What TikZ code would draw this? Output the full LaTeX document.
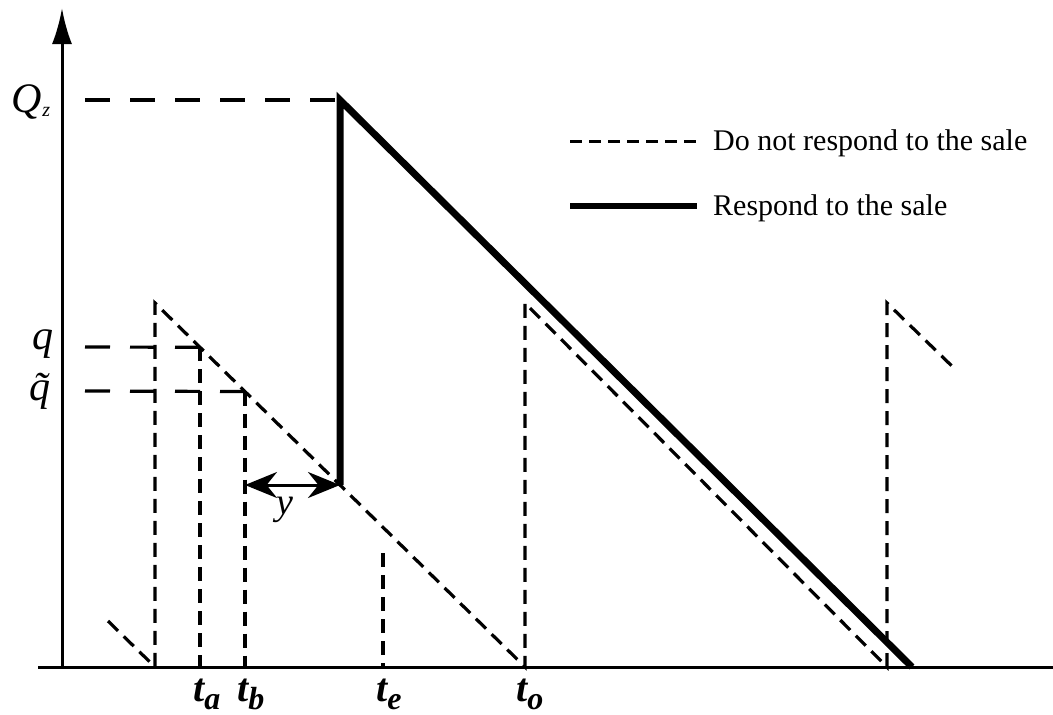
\documentclass[tikz,border=0pt]{standalone}
\usepackage{fontspec}
\setmainfont{Liberation Serif}
\usetikzlibrary{arrows.meta,calc}
\newcommand\tsub[1]{t\raisebox{-8pt}{\fontsize{32}{32}\selectfont #1}}
\begin{document}
\begin{tikzpicture}[x=1pt,y=-1pt,
  axis/.style={line width=3pt},
  saw/.style={line width=3.2pt, dash pattern=on 14pt off 8pt},
  guide/.style={line width=3.2pt, dash pattern=on 25pt off 20pt},
  resp/.style={line width=7pt, line join=miter},
  tlab/.style={font=\fontsize{40}{40}\selectfont\bfseries\itshape, inner sep=0pt, anchor=base west},
  vlab/.style={font=\fontsize{42}{42}\selectfont\itshape, inner sep=0pt},
  legtext/.style={font=\fontsize{30}{30}\selectfont, anchor=west, inner sep=0pt}
]
\useasboundingbox (0,0) rectangle (1053,715);
% axes
\coordinate (O) at (62,667);
\coordinate (ytop) at (62,8);
\coordinate (xl) at (38,667);
\coordinate (xr) at (1053,667);
\draw[axis] (xl) -- (xr);
\draw[axis,-{Latex[length=36pt,width=20pt]}] (O) -- (ytop);
% sawtooth (do not respond)
\coordinate (s0) at (108,621);
\coordinate (b1) at (155,667); \coordinate (p1) at (155,303);
\coordinate (b2) at (525,667); \coordinate (p2) at (525,303);
\coordinate (b3) at (887,667); \coordinate (p3) at (887,303);
\coordinate (s3) at (957,371);
\draw[saw] (s0) -- (b1) -- (p1) -- (b2) -- (p2) -- (b3) -- (p3) -- (s3);
% q levels
\coordinate (qa) at ($(p1)!{45/370}!(b2)$);
\coordinate (qb) at ($(p1)!{90/370}!(b2)$);
\coordinate (qL) at (85,347);
\coordinate (qtL) at (85,391);
\draw[guide] (qL) -- (qa);
\draw[guide] (qtL) -- (qb);
\draw[saw] (qa) -- (qa |- O);
\draw[saw] (qb) -- (qb |- O);
\coordinate (te1) at (383,553);
\coordinate (te0) at (383,667);
\draw[saw] (te1) -- (te0);
% respond path
\coordinate (S1) at ($(p1)!0.5!(b2)$);
\coordinate (S2) at (340,100);
\coordinate (S3) at (912,667);
\coordinate (QL) at (85,100);
\draw[guide] (QL) -- (S2);
\draw[resp] (S1) -- (S2) -- (S3);
% y arrow
\draw[line width=3pt, {Stealth[length=32pt,width=26pt]}-{Stealth[length=32pt,width=26pt]}] (qb |- S1) -- (S1);
\node[font=\fontsize{38}{38}\selectfont\itshape, inner sep=0pt] (ylab) at (285,510) {y};
% axis labels
\node[vlab] (Qz) at (31,102) {Q\raisebox{-4pt}{\fontsize{20}{20}\selectfont z}};
\node[vlab] (q) at (43,344) {q};
\node[vlab] (qt) at (40,391) {\~{q}};
\node[tlab] (ta) at (193,701) {\tsub{a}};
\node[tlab] (tb) at (237,701) {\tsub{b}};
\node[tlab] (te) at (376,701) {\tsub{e}};
\node[tlab] (to) at (516,701) {\tsub{o}};
% legend
\coordinate (l1a) at (570,141); \coordinate (l1b) at (697,141);
\draw[line width=3pt, dash pattern=on 12pt off 7pt] (l1a) -- (l1b);
\node[legtext] (l1t) at (713,143) {Do not respond to the sale};
\coordinate (l2a) at (570,206); \coordinate (l2b) at (697,206);
\draw[line width=5.5pt] (l2a) -- (l2b);
\node[legtext] (l2t) at (713,208) {Respond to the sale};
\end{tikzpicture}
\end{document}
